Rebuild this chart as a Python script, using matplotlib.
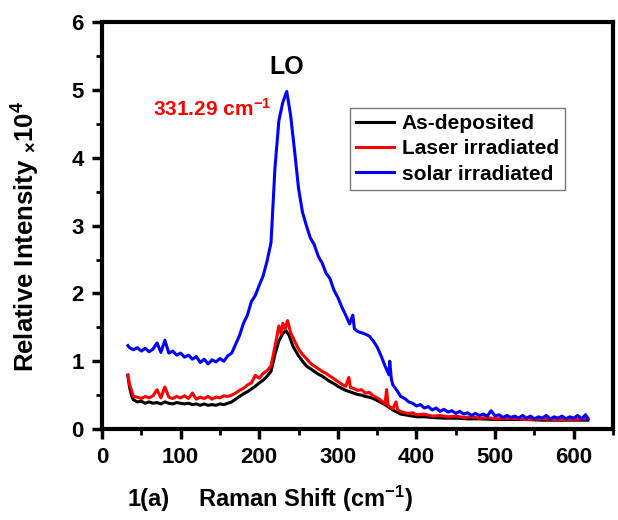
import matplotlib
matplotlib.use("Agg")
import matplotlib.pyplot as plt
from matplotlib.ticker import MultipleLocator

plt.rcParams['font.family'] = ['Liberation Sans', 'DejaVu Sans']
plt.rcParams['font.weight'] = 'bold'
plt.rcParams['mathtext.fontset'] = 'custom'
plt.rcParams['mathtext.rm'] = 'Liberation Sans:bold'
plt.rcParams['mathtext.bf'] = 'Liberation Sans:bold'
plt.rcParams['mathtext.default'] = 'bf'

# Raman spectra (intensity in units of 1e4)
x_solar = [33, 35, 40, 45, 50, 55, 60, 65, 70, 75, 80, 85, 90, 95, 100, 105, 110, 115, 120, 125,
           130, 135, 140, 145, 150, 155, 160, 165, 170, 175, 180, 185, 190, 195, 200, 205, 210,
           215, 220, 225, 230, 235, 240, 245, 250, 255, 260, 265, 270, 275, 280, 285, 290, 295,
           300, 305, 310, 315, 319, 321, 325, 330, 335, 340, 345, 350, 355, 360, 365, 366, 368,
           370, 375, 380, 385, 390, 395, 400, 405, 410, 415, 420, 425, 430, 435, 440, 445, 450,
           455, 460, 465, 470, 475, 480, 485, 490, 495, 500, 505, 510, 515, 520, 525, 530, 535,
           540, 545, 550, 555, 560, 565, 570, 575, 580, 585, 590, 595, 600, 605, 610, 615, 618]
y_solar = [1.23, 1.20, 1.17, 1.20, 1.15, 1.19, 1.14, 1.18, 1.27, 1.13, 1.31, 1.12, 1.15, 1.09,
           1.12, 1.06, 1.09, 1.03, 1.07, 0.98, 1.03, 0.96, 1.02, 0.99, 1.04, 1.00, 1.08, 1.12,
           1.25, 1.38, 1.56, 1.68, 1.88, 1.97, 2.12, 2.26, 2.48, 2.75, 3.85, 4.55, 4.82, 4.98,
           4.62, 4.10, 3.55, 3.20, 3.00, 2.82, 2.72, 2.55, 2.45, 2.30, 2.22, 2.05, 1.94, 1.80,
           1.68, 1.55, 1.68, 1.48, 1.44, 1.42, 1.40, 1.37, 1.30, 1.21, 1.08, 0.93, 0.80, 1.00,
           0.74, 0.65, 0.57, 0.48, 0.45, 0.40, 0.38, 0.34, 0.36, 0.31, 0.33, 0.28, 0.31, 0.26,
           0.29, 0.25, 0.27, 0.23, 0.26, 0.22, 0.24, 0.20, 0.23, 0.20, 0.22, 0.19, 0.27, 0.19,
           0.21, 0.17, 0.20, 0.17, 0.19, 0.16, 0.20, 0.16, 0.19, 0.15, 0.18, 0.16, 0.20, 0.15,
           0.18, 0.16, 0.19, 0.15, 0.18, 0.16, 0.20, 0.15, 0.21, 0.15]

x_asdep = [33, 35, 38, 40, 45, 50, 55, 60, 65, 70, 75, 80, 85, 90, 95, 100, 105, 110, 115, 120,
           125, 130, 135, 140, 145, 150, 155, 160, 165, 170, 175, 180, 185, 190, 195, 200, 205,
           210, 215, 220, 225, 230, 234, 238, 243, 250, 255, 260, 265, 270, 275, 280, 285, 290,
           295, 300, 305, 310, 315, 320, 325, 330, 335, 340, 345, 350, 355, 360, 365, 370, 375,
           380, 390, 400, 410, 420, 435, 450, 465, 480, 500, 520, 540, 560, 580, 600, 618]
y_asdep = [0.78, 0.62, 0.48, 0.43, 0.40, 0.41, 0.38, 0.40, 0.38, 0.39, 0.37, 0.40, 0.38, 0.37,
           0.39, 0.38, 0.37, 0.38, 0.36, 0.37, 0.35, 0.37, 0.35, 0.36, 0.35, 0.37, 0.36, 0.38,
           0.40, 0.44, 0.48, 0.52, 0.55, 0.59, 0.63, 0.68, 0.72, 0.78, 0.85, 1.10, 1.30, 1.41,
           1.45, 1.38, 1.22, 1.08, 1.00, 0.93, 0.89, 0.85, 0.81, 0.78, 0.74, 0.70, 0.67, 0.63,
           0.60, 0.57, 0.55, 0.53, 0.51, 0.50, 0.48, 0.47, 0.45, 0.42, 0.39, 0.36, 0.32, 0.28,
           0.25, 0.22, 0.20, 0.18, 0.18, 0.17, 0.16, 0.16, 0.15, 0.15, 0.14, 0.14, 0.14, 0.13,
           0.13, 0.13, 0.13]

x_laser = [33, 35, 40, 45, 50, 55, 60, 65, 70, 75, 80, 85, 90, 95, 100, 105, 110, 115, 120, 125,
           130, 135, 140, 145, 150, 155, 160, 165, 170, 175, 180, 185, 190, 195, 200, 205, 210,
           215, 220, 225, 228, 230, 233, 236, 240, 245, 250, 255, 260, 265, 270, 275, 280, 285,
           290, 295, 300, 305, 310, 314, 316, 320, 325, 330, 335, 340, 345, 350, 355, 360, 362,
           364, 370, 374, 376, 380, 385, 390, 395, 400, 410, 420, 430, 440, 450, 460, 470, 480,
           490, 500, 520, 540, 560, 580, 600, 610, 618]
y_laser = [0.80, 0.66, 0.48, 0.47, 0.45, 0.48, 0.46, 0.49, 0.58, 0.46, 0.62, 0.47, 0.45, 0.48,
           0.46, 0.49, 0.45, 0.53, 0.44, 0.47, 0.45, 0.48, 0.44, 0.47, 0.46, 0.49, 0.48, 0.50,
           0.53, 0.57, 0.60, 0.65, 0.68, 0.79, 0.75, 0.82, 0.86, 0.93, 1.22, 1.52, 1.40, 1.56,
           1.48, 1.60, 1.42, 1.30, 1.18, 1.10, 1.04, 0.97, 0.93, 0.89, 0.85, 0.82, 0.78, 0.74,
           0.70, 0.66, 0.63, 0.76, 0.61, 0.60, 0.57, 0.58, 0.53, 0.54, 0.49, 0.46, 0.42, 0.37,
           0.58, 0.34, 0.30, 0.40, 0.28, 0.26, 0.24, 0.23, 0.24, 0.21, 0.22, 0.19, 0.20, 0.18,
           0.19, 0.17, 0.18, 0.16, 0.17, 0.15, 0.16, 0.14, 0.15, 0.14, 0.14, 0.15, 0.16]

fig = plt.figure(figsize=(6.18, 5.2), dpi=100)
ax = fig.add_axes([0.165, 0.175, 0.827, 0.782])

ax.plot(x_asdep, y_asdep, color='black', lw=2.2, label='As-deposited')
ax.plot(x_laser, y_laser, color='red', lw=2.2, label='Laser irradiated')
ax.plot(x_solar, y_solar, color='blue', lw=2.2, label='solar irradiated')

ax.set_xlim(0, 650)
ax.set_ylim(0, 6)
ax.xaxis.set_major_locator(MultipleLocator(100))
ax.xaxis.set_minor_locator(MultipleLocator(50))
ax.yaxis.set_major_locator(MultipleLocator(1))
ax.yaxis.set_minor_locator(MultipleLocator(0.5))
ax.tick_params(which='major', direction='out', length=7, width=2.5, labelsize=16, pad=6)
ax.tick_params(which='minor', direction='out', length=4, width=2)
for s in ax.spines.values():
    s.set_linewidth(3)
for lab in ax.get_xticklabels() + ax.get_yticklabels():
    lab.set_fontweight('bold')

ax.text(235, 5.34, 'LO', fontsize=18, ha='center', va='center')
ax.text(65, 4.73, '331.29 cm$^{-1}$', color='red', fontsize=15, ha='left', va='center')

leg = ax.legend(loc='upper left', bbox_to_anchor=(0.485, 0.79), borderaxespad=0,
                fontsize=15, frameon=True, fancybox=False, handlelength=1.8,
                handletextpad=0.4, labelspacing=0.3, borderpad=0.3)
leg.get_frame().set_edgecolor('#555555')
leg.get_frame().set_linewidth(1)

fig.text(0.042, 0.545, 'Relative Intensity $_{\\times}$10$^{4}$', rotation=90,
         fontsize=18.5, ha='center', va='center')
fig.text(0.24, 0.04, '1(a)', fontsize=17, ha='center', va='center')
fig.text(0.495, 0.04, 'Raman Shift (cm$^{-1}$)', fontsize=17, ha='center', va='center')

fig.savefig('out.png', dpi=100)
